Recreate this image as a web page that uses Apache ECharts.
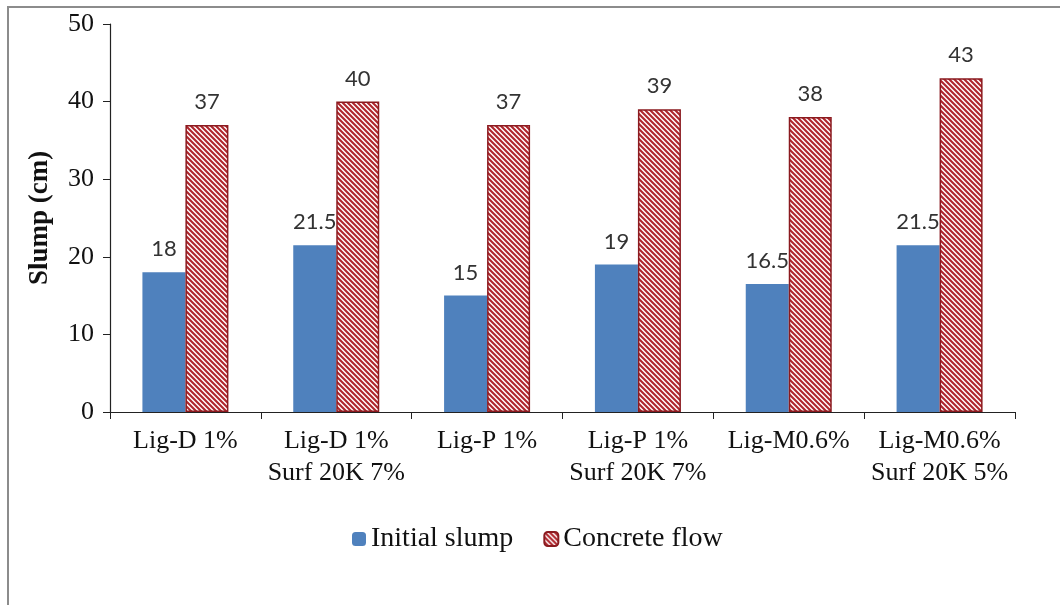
<!DOCTYPE html>
<html>
<head>
<meta charset="utf-8">
<script src="https://cdn.jsdelivr.net/npm/echarts@6/dist/echarts.min.js"></script>
<style>
  html, body { margin: 0; padding: 0; background: #fff; }
  #chart { width: 1060px; height: 605px; }
</style>
</head>
<body>
<div id="chart"></div>
<script>
// Mix designs on the category axis
const categories = [
  'Lig-D 1%',
  'Lig-D 1%\nSurf 20K 7%',
  'Lig-P 1%',
  'Lig-P 1%\nSurf 20K 7%',
  'Lig-M0.6%',
  'Lig-M0.6%\nSurf 20K 5%'
];
// Slump measurements (cm)
const initialSlump = [18, 21.5, 15, 19, 16.5, 21.5];
const concreteFlow = [37, 40, 37, 39, 38, 43];
// Value axis range
const yMin = 0, yMax = 50, yStep = 10;

// Red/white diagonal hatch fill for the flow bars
function hatchPattern() {
  const s = 5;
  const c = document.createElement('canvas');
  c.width = s; c.height = s;
  const g = c.getContext('2d');
  g.fillStyle = '#ffffff';
  g.fillRect(0, 0, s, s);
  g.strokeStyle = '#b0262d';
  g.lineWidth = 2.1;
  g.beginPath();
  for (let k = -1; k <= 1; k++) {
    g.moveTo(k * s - 1, -1);
    g.lineTo(k * s + s + 1, s + 1);
  }
  g.stroke();
  return c;
}

const serif = '"Liberation Serif", "Times New Roman", serif';
const labelStyle = {
  show: true,
  position: 'top',
  distance: 12,
  fontFamily: 'Lato, "Open Sans", sans-serif',
  fontSize: 22,
  color: '#333'
};

const chart = echarts.init(document.getElementById('chart'), null, { renderer: 'canvas' });
chart.setOption({
  animation: false,
  backgroundColor: '#fff',
  graphic: [{
    type: 'rect',
    shape: { x: 8, y: 7, width: 1100, height: 700 },
    style: { fill: 'none', stroke: '#8c8c8c', lineWidth: 2 },
    silent: true,
    z: -10
  }],
  grid: { left: 110, right: 45, top: 24, bottom: 193 },
  legend: {
    left: 347,
    top: 520,
    itemWidth: 14,
    itemHeight: 14,
    itemGap: 30,
    textStyle: { fontFamily: serif, fontSize: 28, color: '#111' },
    data: ['Initial slump', 'Concrete flow']
  },
  xAxis: {
    type: 'category',
    data: categories,
    axisLine: { lineStyle: { color: '#222', width: 1.2 } },
    axisTick: { show: true, length: 7, lineStyle: { color: '#222' } },
    axisLabel: {
      fontFamily: serif,
      fontSize: 26,
      color: '#111',
      margin: 13,
      lineHeight: 32,
      interval: 0
    }
  },
  yAxis: {
    type: 'value',
    min: yMin,
    max: yMax,
    interval: yStep,
    name: 'Slump (cm)',
    nameLocation: 'middle',
    nameGap: 56,
    nameTextStyle: { fontFamily: serif, fontSize: 27, fontWeight: 'bold', color: '#111' },
    axisLine: { show: true, lineStyle: { color: '#222', width: 1.2 } },
    axisTick: { show: true, length: 7, lineStyle: { color: '#222' } },
    splitLine: { show: false },
    axisLabel: { fontFamily: serif, fontSize: 26, color: '#111', margin: 16 }
  },
  series: [
    {
      name: 'Initial slump',
      type: 'bar',
      data: initialSlump,
      barWidth: 43,
      barGap: '0%',
      itemStyle: { color: '#4f81bd' },
      label: labelStyle
    },
    {
      name: 'Concrete flow',
      type: 'bar',
      data: concreteFlow,
      barWidth: 43,
      barGap: '0%',
      itemStyle: {
        color: { image: hatchPattern(), repeat: 'repeat' },
        borderColor: '#8b1a1f',
        borderWidth: 1.5
      },
      label: labelStyle
    }
  ]
});
</script>
</body>
</html>
